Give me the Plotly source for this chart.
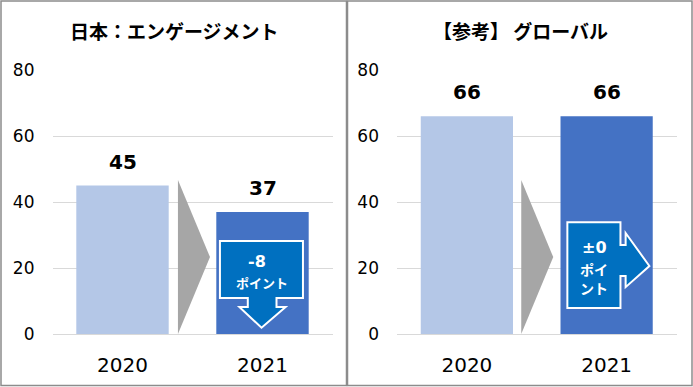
import plotly.graph_objects as go

years = ["2020", "2021"]
japan_values = [45, 37]
global_values = [66, 66]
titles = ["日本：エンゲージメント", "【参考】 グローバル"]
japan_badge = ["-8", "ポイント"]
global_badge = ["±0", "ポイ", "ント"]
y_ticks = [0, 20, 40, 60, 80]

W, H = 693, 387
C2020 = "#B4C7E7"
C2021 = "#4472C4"
BADGE = "#0070C0"
GRAY = "#A6A6A6"
JP = "Noto Sans CJK JP"
NUM = "DejaVu Sans"

def px(x):
    return x / W

def py(y):
    return 1 - y / H

fig = go.Figure()

for i, vals in enumerate([japan_values, global_values]):
    ax = "" if i == 0 else "2"
    fig.add_trace(go.Bar(
        x=[0, 1], y=vals, xaxis="x" + ax, yaxis="y" + ax,
        marker=dict(color=[C2020, C2021], line=dict(width=0)),
        width=0.66, showlegend=False, hoverinfo="skip",
    ))

ydom = [py(334), py(70)]
yaxis_common = dict(range=[0, 80], tickvals=y_ticks, showgrid=True, gridcolor="#D9D9D9",
                    gridwidth=1, zeroline=True, zerolinecolor="#D9D9D9", zerolinewidth=1,
                    showline=False, ticks="", automargin=False,
                    tickfont=dict(size=17, color="black", family=NUM), domain=ydom)
xaxis_common = dict(range=[-0.5, 1.5], tickvals=[0, 1], ticktext=years, ticks="", automargin=False,
                    tickfont=dict(size=20, color="black", family=NUM),
                    showgrid=False, zeroline=False, showline=False)

fig.update_layout(
    width=W, height=H, margin=dict(l=0, r=0, t=0, b=0, pad=0, autoexpand=False),
    paper_bgcolor="white", plot_bgcolor="white",
    xaxis=dict(domain=[px(52.5), px(332.5)], anchor="y", **xaxis_common),
    yaxis=dict(anchor="free", position=px(52.5), **yaxis_common),
    xaxis2=dict(domain=[px(397), px(676.5)], anchor="y2", **xaxis_common),
    yaxis2=dict(anchor="free", position=px(397), **yaxis_common),
)
fig.update_yaxes(ticklabelstandoff=18)
fig.update_xaxes(ticklabelstandoff=17)

shapes = []
# panel borders
shapes.append(dict(type="rect", xref="paper", yref="paper", x0=px(1), x1=px(346.5), y0=py(385.5), y1=py(1),
                   line=dict(color="#8C8C8C", width=1.5), layer="below"))
shapes.append(dict(type="rect", xref="paper", yref="paper", x0=px(347.5), x1=px(692), y0=py(385.5), y1=py(1),
                   line=dict(color="#8C8C8C", width=1.5), layer="below"))

# gray transition triangles (data coords)
for ax, x0, x1 in [("", 0.396, 0.625), ("2", 0.389, 0.618)]:
    shapes.append(dict(type="path", xref="x" + ax, yref="y" + ax,
                       path=f"M {x0},0 L {x0},46.7 L {x1},23.3 Z",
                       fillcolor=GRAY, line=dict(width=0)))

# left badge: box with down arrow
lp = ("M 0.696,28.2 L 1.289,28.2 L 1.289,10.9 L 1.100,10.9 L 1.100,8.2 L 1.165,8.2 "
      "L 0.993,1.9 L 0.835,8.2 L 0.895,8.2 L 0.895,10.9 L 0.696,10.9 Z")
shapes.append(dict(type="path", xref="x", yref="y", path=lp, fillcolor=BADGE,
                   line=dict(color="white", width=2)))
# right badge: box with right arrow
rp = ("M 0.719,33.9 L 1.099,33.9 L 1.099,27.0 L 1.136,27.0 L 1.136,30.6 L 1.306,20.6 "
      "L 1.136,14.2 L 1.136,17.6 L 1.099,17.6 L 1.099,7.9 L 0.719,7.9 Z")
shapes.append(dict(type="path", xref="x2", yref="y2", path=rp, fillcolor=BADGE,
                   line=dict(color="white", width=2)))
fig.update_layout(shapes=shapes)

def note(text, xref, yref, x, y, size, color, family, yanchor="middle", yshift=0):
    return dict(text=text, xref=xref, yref=yref, x=x, y=y, xanchor="center", yanchor=yanchor,
                yshift=yshift, showarrow=False, font=dict(size=size, color=color, family=family))

ann = [
    note(f"<b>{titles[0]}</b>", "paper", "paper", px(174), py(30), 19, "black", JP),
    note(f"<b>{titles[1]}</b>", "paper", "paper", px(520), py(30), 19, "black", JP),
    note(f"<b>{japan_badge[0]}</b>", "x", "y", 0.96, 21.9, 16, "white", NUM),
    note(f"<b>{japan_badge[1]}</b>", "x", "y", 0.993, 15.6, 13, "white", JP),
    note(f"<b>{global_badge[0]}</b>", "x2", "y2", 0.912, 26.3, 16, "white", NUM),
    note(f"<b>{global_badge[1]}</b>", "x2", "y2", 0.912, 19.8, 14, "white", JP),
    note(f"<b>{global_badge[2]}</b>", "x2", "y2", 0.912, 14.0, 14, "white", JP),
]
# value labels above bars
for ax, vals in [("", japan_values), ("2", global_values)]:
    for i, v in enumerate(vals):
        ann.append(note(f"<b>{v}</b>", "x" + ax, "y" + ax, i, v, 20, "black", NUM,
                        yanchor="bottom", yshift=10))
fig.update_layout(annotations=ann)

fig.write_html("out.html", config={"displayModeBar": False},
               post_script="document.body.style.margin='0';")
